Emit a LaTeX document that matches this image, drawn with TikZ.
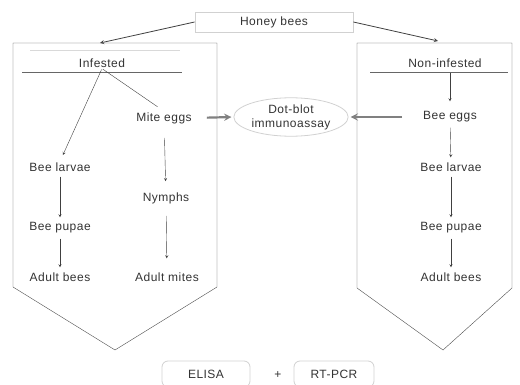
\documentclass[tikz,border=0pt]{standalone}
\usepackage{fontspec}
\setmainfont[LetterSpace=4]{Liberation Sans}
\usetikzlibrary{shapes.geometric}

\begin{document}
\begin{tikzpicture}[x=1pt,y=-1pt,>=stealth,
    txt/.style={text=black!80,font=\fontsize{12}{14}\selectfont,inner sep=1pt},
    faint/.style={draw=black!18,thick},
    flow/.style={->,draw=black!75,shorten <=4pt,shorten >=4pt},
    fat/.style={->,draw=black!50,line width=2.2pt}]

      \useasboundingbox (0,0) rectangle (520,385);

      % Pentagons
      \draw[black!70] (13,43) -- (217,43) -- (217,287) -- (115,350) -- (13,287) -- cycle;
      \draw[black!70] (357,43) -- (512,43) -- (512,288) -- (443,350) -- (357,288) -- cycle;

      % Headers
      \draw[black!60] (22,72) -- (182,72);
      \draw[black!15] (30,50) -- (180,50);
      \draw[black!60] (370,72) -- (508,72);

      % Top node
      \node[txt,faint,minimum width=158,minimum height=20] (hb) at (274,22) {Honey bees};
      \coordinate (inftop) at (100,43);
      \coordinate (nontop) at (438,41);
      \draw[->,black!75,thick] (hb.west) -- (inftop);
      \draw[->,black!75,thick] (hb.east) -- (nontop);

      % Infested side
      \node[txt] (inf) at (102,63) {Infested};
      \node[txt] (mite) at (164,118) {Mite eggs};
      \node[txt] (larvL) at (60,167) {Bee larvae};
      \node[txt] (nymph) at (166,198) {Nymphs};
      \node[txt] (pupL) at (60,228) {Bee pupae};
      \node[txt] (adultL) at (60,277) {Adult bees};
      \node[txt] (amite) at (167,277) {Adult mites};

      \draw[flow,shorten <=1pt,shorten >=7pt] (inf.south) -- (larvL.north);
      \draw[black!75,shorten <=1pt,shorten >=8pt] (inf.south) -- (mite.north);
      \draw[flow] (larvL) -- (pupL);
      \draw[flow] (pupL) -- (adultL);
      \draw[flow,shorten <=13pt,shorten >=10pt] (mite) -- (nymph);
      \draw[flow,shorten <=11pt,shorten >=13pt] (nymph) -- (amite);

      % Non-infested side
      \node[txt] (non) at (445,63) {Non-infested};
      \node[txt] (eggsR) at (450,117) {Bee eggs};
      \node[txt] (larvR) at (451,167) {Bee larvae};
      \node[txt] (pupR) at (451,228) {Bee pupae};
      \node[txt] (adultR) at (451,277) {Adult bees};

      \draw[flow,shorten >=9pt] (non.south -| eggsR) -- (eggsR);
      \draw[flow] (eggsR) -- (larvR);
      \draw[flow] (larvR) -- (pupR);
      \draw[flow] (pupR) -- (adultR);

      % Dot-blot
      \node[txt,faint,ellipse,minimum width=107,minimum height=32,align=center] (dot) at (291,117) {Dot-blot\\immunoassay};
      \draw[fat,shorten <=14pt,shorten >=2pt] (mite.east) -- (dot.west);
      \draw[fat,shorten <=20pt,shorten >=2pt] (eggsR.west) -- (dot.east);

      % Bottom
      \node[txt,faint,rounded corners=6pt,minimum width=88,minimum height=26] (elisa) at (206,374) {ELISA};
      \node[txt] (plus) at (278,375) {+};
      \node[txt,faint,rounded corners=6pt,minimum width=80,minimum height=26] (pcr) at (334,374) {RT-PCR};

\end{tikzpicture}
\end{document}
